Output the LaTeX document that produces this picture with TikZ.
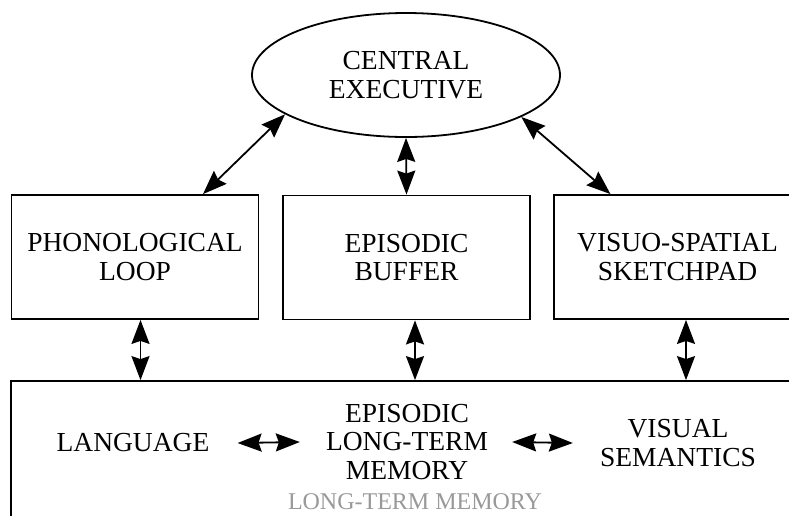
\documentclass[tikz,border=0pt]{standalone}
\usepackage{fontspec}
\setmainfont{Liberation Serif}
\usetikzlibrary{shapes.geometric,arrows.meta}
\tikzstyle{tx}=[align=center, inner sep=0, font=\fontsize{27.5}{28.5}\selectfont]
\tikzstyle{bx}=[draw, line width=1.8pt, minimum width=247pt, minimum height=124pt, inner sep=0]
\tikzstyle{ar}=[line width=1.8pt, {Stealth[length=24pt,width=18pt,inset=3pt]}-{Stealth[length=24pt,width=18pt,inset=3pt]}]
\definecolor{ltmgray}{gray}{0.6}

\begin{document}
\begin{tikzpicture}[x=1pt,y=-1pt]
\useasboundingbox (0,0) rectangle (789,515);
\clip (0,0) rectangle (789,515);
\node[tx, ellipse, draw, line width=1.8pt, minimum width=308pt, minimum height=124pt] (ce) at (406,75) {CENTRAL\\EXECUTIVE};
\node[bx, tx] (pl) at (135,257) {PHONOLOGICAL\\LOOP};
\node[bx, tx] (eb) at (406.5,257.5) {EPISODIC\\BUFFER};
\node[bx, tx] (vs) at (677.5,257) {VISUO-SPATIAL\\SKETCHPAD};
\node[draw, line width=1.8pt, minimum width=830pt, minimum height=180pt] (ltm) at (426,471) {};
\node[tx] (lang) at (133,443) {LANGUAGE};
\node[tx] (elm) at (407,442) {EPISODIC\\LONG-TERM\\MEMORY};
\node[tx] (vsem) at (678,443) {VISUAL\\SEMANTICS};
\node[tx, text=ltmgray, font=\fontsize{24}{26}\selectfont] (ltmlab) at (415,502) {LONG-TERM MEMORY};
\draw[ar] (ce.198.4) -- ([xshift=68pt]pl.north);
\draw[ar] (ce.south) -- (eb.north);
\draw[ar] (ce.-20.6) -- ([xshift=-67pt]vs.north);
\foreach \n/\s in {pl/5.5, eb/8.5, vs/8.5}
{
\draw[ar] ([xshift=\s pt]\n.south) -- ([xshift=\s pt]\n.south |- ltm.north);
}
\draw[ar] ([xshift=28pt]lang.east) -- ([xshift=-26pt]elm.west);
\draw[ar] ([xshift=24pt]elm.east) -- ([xshift=-27pt]vsem.west);
\end{tikzpicture}
\end{document}
